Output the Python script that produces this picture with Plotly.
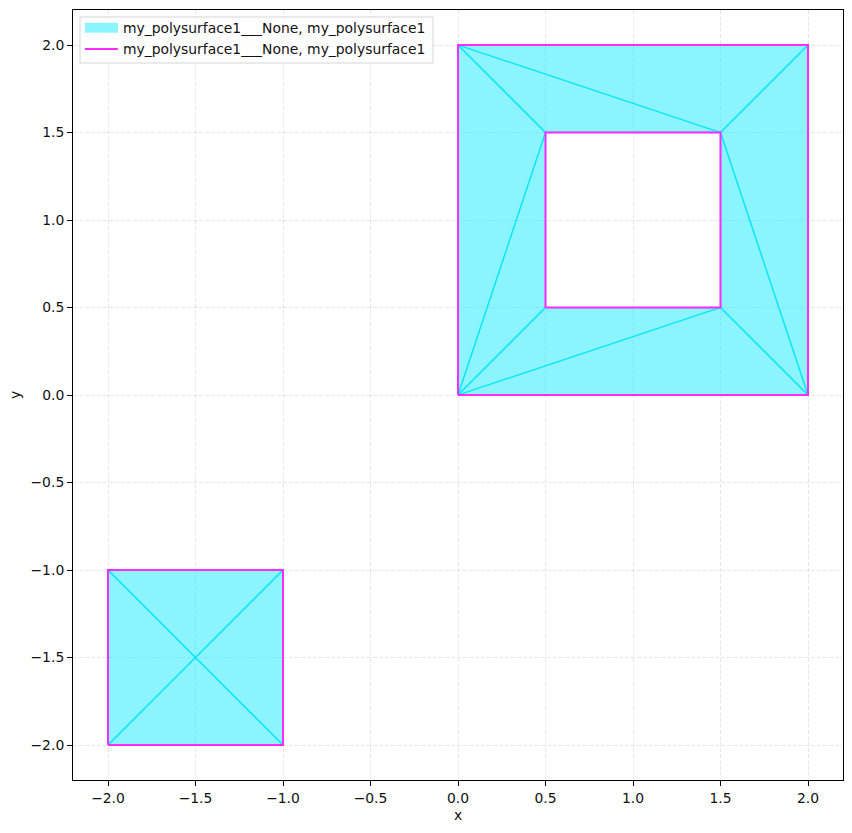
import plotly.graph_objects as go

LABEL = 'my_polysurface1___None, my_polysurface1'

# triangulation of the two surfaces
tri_x = [
    [0, 2, 1.5], [0, 1.5, 0.5], [2, 2, 1.5], [2, 1.5, 1.5],
    [0, 2, 1.5], [0, 1.5, 0.5], [0, 0.5, 0.5], [0, 0.5, 0],
    [-2, -1, -1.5], [-1, -1, -1.5], [-1, -2, -1.5], [-2, -2, -1.5],
]
tri_y = [
    [2, 2, 1.5], [2, 1.5, 1.5], [2, 0, 1.5], [0, 0.5, 1.5],
    [0, 0, 0.5], [0, 0.5, 0.5], [0, 0.5, 1.5], [0, 1.5, 2],
    [-2, -2, -1.5], [-2, -1, -1.5], [-1, -1, -1.5], [-1, -2, -1.5],
]

# boundary rings
outer_x = [0, 2, 2, 0, 0]
outer_y = [0, 0, 2, 2, 0]
inner_x = [0.5, 1.5, 1.5, 0.5, 0.5]
inner_y = [0.5, 0.5, 1.5, 1.5, 0.5]
small_x = [-2, -1, -1, -2, -2]
small_y = [-2, -2, -1, -1, -2]

ticks = [-2.0, -1.5, -1.0, -0.5, 0.0, 0.5, 1.0, 1.5, 2.0]

FILL = 'rgba(0,230,255,0.45)'
TEXT = '#111111'
FONT_SIZE = 13.9


def join_rings(rings):
    out = []
    for r in rings:
        out += list(r) + [r[0], None]
    return out


fig = go.Figure()
fig.add_trace(go.Scatter(x=join_rings(tri_x), y=join_rings(tri_y), mode='lines', fill='toself',
                         fillcolor=FILL, line=dict(color='rgba(0,230,255,0.75)', width=1.3),
                         name=LABEL, showlegend=False))
# empty trace, only gives the legend its taller patch swatch
fig.add_trace(go.Scatter(x=[None], y=[None], mode='lines', line=dict(color=FILL, width=11), name=LABEL))
fig.add_trace(go.Scatter(x=outer_x + [None] + inner_x + [None] + small_x,
                         y=outer_y + [None] + inner_y + [None] + small_y,
                         mode='lines', line=dict(color='#ff2bff', width=2), name=LABEL))

axis = dict(range=[-2.2, 2.2], tickvals=ticks, tickformat='.1f', ticks='outside', ticklen=5, tickwidth=1,
            tickcolor='black', showline=True, linecolor='black', linewidth=1, mirror=True,
            showgrid=True, gridcolor='rgba(176,176,176,0.3)', griddash='4px,2px', gridwidth=1, zeroline=False,
            tickfont=dict(size=FONT_SIZE, color=TEXT))
fig.update_xaxes(title=dict(text='x', font=dict(size=FONT_SIZE, color=TEXT), standoff=5), **axis)
fig.update_yaxes(title=dict(text='y', font=dict(size=FONT_SIZE, color=TEXT), standoff=6), **axis)

fig.update_layout(
    width=852, height=833,
    margin=dict(l=73, r=9, t=10, b=53),
    plot_bgcolor='white', paper_bgcolor='white',
    font=dict(family='DejaVu Sans', size=FONT_SIZE),
    legend=dict(x=0.009, y=0.997, xanchor='left', yanchor='top', bgcolor='rgba(0,0,0,0)',
                borderwidth=0, itemwidth=33, font=dict(size=FONT_SIZE, color=TEXT)),
    # plotly pads its legend box too much, so the frame is a shape behind it
    shapes=[dict(type='rect', xref='paper', yref='paper', x0=7 / 770, x1=360 / 770, y0=1 - 53 / 770, y1=1 - 7 / 770,
                 layer='above', fillcolor='rgba(255,255,255,0.8)', line=dict(color='#d5d5d5', width=1))],
)
fig.write_html('out.html', config=dict(displayModeBar=False), post_script="document.body.style.margin = '0';")
